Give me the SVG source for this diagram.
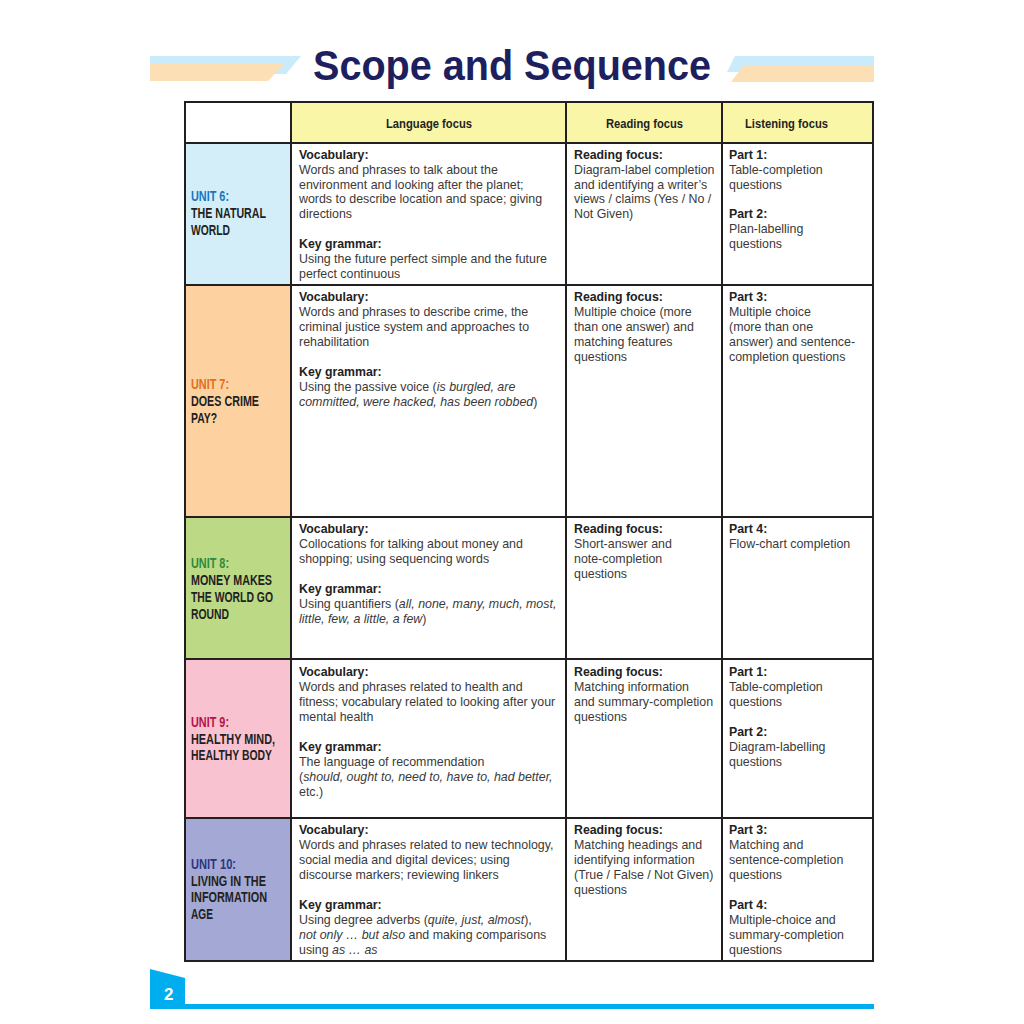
<svg xmlns="http://www.w3.org/2000/svg" width="1024" height="1024" viewBox="0 0 1024 1024">
<style>
.t{font-family:"Liberation Sans",Arial,sans-serif;font-size:12.4px;fill:#3a3a3a}
.b{font-family:"Liberation Sans",Arial,sans-serif;font-size:12.3px;font-weight:bold;fill:#222}
.u{font-family:"Liberation Sans Narrow","Liberation Sans",Arial,sans-serif;font-size:14px;font-weight:bold;fill:#231f20}
.h{font-family:"Liberation Sans Narrow","Liberation Sans",Arial,sans-serif;font-size:13.5px;font-weight:bold;fill:#231f20}
.i{font-style:italic}
.ln{stroke:#231f20;stroke-width:2;fill:none}
</style>
<rect width="1024" height="1024" fill="#fff"/>
<g id="header-decor">
<polygon points="150,56 301,56 286,74 150,74" fill="#c9ebfa"/>
<polygon points="150,64 284,64 268,81 150,81" fill="#fddfb6"/>
<polygon points="735,56 874,56 874,72 727,72" fill="#c9ebfa"/>
<polygon points="743,66 874,66 874,82 731,82" fill="#fddfb6"/>
<text x="313" y="80" textLength="398" lengthAdjust="spacingAndGlyphs" font-family="Liberation Sans,Arial,sans-serif" font-size="42" font-weight="bold" fill="#1e1f5e">Scope and Sequence</text>
</g>
<g id="cells">
<rect x="291" y="102" width="582" height="41" fill="#faf6a8"/>
<rect x="185" y="143" width="106" height="142" fill="#d3eef9"/>
<rect x="185" y="285" width="106" height="232" fill="#fdd2a0"/>
<rect x="185" y="517" width="106" height="142" fill="#bcd985"/>
<rect x="185" y="659" width="106" height="159" fill="#f8c2d0"/>
<rect x="185" y="818" width="106" height="143" fill="#a4a8d4"/>
</g>
<g id="grid">
<rect class="ln" x="185" y="102" width="688" height="859"/>
<line class="ln" x1="291" y1="102" x2="291" y2="961"/>
<line class="ln" x1="566" y1="102" x2="566" y2="961"/>
<line class="ln" x1="722" y1="102" x2="722" y2="961"/>
<line class="ln" x1="185" y1="143" x2="873" y2="143"/>
<line class="ln" x1="185" y1="285" x2="873" y2="285"/>
<line class="ln" x1="185" y1="517" x2="873" y2="517"/>
<line class="ln" x1="185" y1="659" x2="873" y2="659"/>
<line class="ln" x1="185" y1="818" x2="873" y2="818"/>
</g>
<g id="header-row">
<text class="h" x="386" y="128" textLength="86" lengthAdjust="spacingAndGlyphs">Language focus</text>
<text class="h" x="606" y="128" textLength="77" lengthAdjust="spacingAndGlyphs">Reading focus</text>
<text class="h" x="745" y="128" textLength="83" lengthAdjust="spacingAndGlyphs">Listening focus</text>
</g>
<g id="unit6">
<text class="u" x="191" y="201" textLength="38" lengthAdjust="spacingAndGlyphs" style="fill:#1a75bc">UNIT 6:</text>
<text class="u" x="191" y="218" textLength="75" lengthAdjust="spacingAndGlyphs">THE NATURAL</text>
<text class="u" x="191" y="235" textLength="39" lengthAdjust="spacingAndGlyphs">WORLD</text>
<text class="b" x="299" y="159">Vocabulary:</text>
<text class="t" x="299" y="174">Words and phrases to talk about the</text>
<text class="t" x="299" y="189">environment and looking after the planet;</text>
<text class="t" x="299" y="203">words to describe location and space; giving</text>
<text class="t" x="299" y="218">directions</text>
<text class="b" x="299" y="248">Key grammar:</text>
<text class="t" x="299" y="263">Using the future perfect simple and the future</text>
<text class="t" x="299" y="278">perfect continuous</text>
<text class="b" x="574" y="159">Reading focus:</text>
<text class="t" x="574" y="174">Diagram-label completion</text>
<text class="t" x="574" y="189">and identifying a writer’s</text>
<text class="t" x="574" y="203">views / claims (Yes / No /</text>
<text class="t" x="574" y="218">Not Given)</text>
<text class="b" x="729" y="159">Part 1:</text>
<text class="t" x="729" y="174">Table-completion</text>
<text class="t" x="729" y="189">questions</text>
<text class="b" x="729" y="218">Part 2:</text>
<text class="t" x="729" y="233">Plan-labelling</text>
<text class="t" x="729" y="248">questions</text>
</g>
<g id="unit7">
<text class="u" x="191" y="389" textLength="38" lengthAdjust="spacingAndGlyphs" style="fill:#e0701d">UNIT 7:</text>
<text class="u" x="191" y="406" textLength="68" lengthAdjust="spacingAndGlyphs">DOES CRIME</text>
<text class="u" x="191" y="423" textLength="26" lengthAdjust="spacingAndGlyphs">PAY?</text>
<text class="b" x="299" y="301">Vocabulary:</text>
<text class="t" x="299" y="316">Words and phrases to describe crime, the</text>
<text class="t" x="299" y="331">criminal justice system and approaches to</text>
<text class="t" x="299" y="346">rehabilitation</text>
<text class="b" x="299" y="376">Key grammar:</text>
<text class="t" x="299" y="391">Using the passive voice (<tspan class="i">is burgled, are</tspan></text>
<text class="t" x="299" y="406"><tspan class="i">committed, were hacked, has been robbed</tspan>)</text>
<text class="b" x="574" y="301">Reading focus:</text>
<text class="t" x="574" y="316">Multiple choice (more</text>
<text class="t" x="574" y="331">than one answer) and</text>
<text class="t" x="574" y="346">matching features</text>
<text class="t" x="574" y="361">questions</text>
<text class="b" x="729" y="301">Part 3:</text>
<text class="t" x="729" y="316">Multiple choice</text>
<text class="t" x="729" y="331">(more than one</text>
<text class="t" x="729" y="346">answer) and sentence-</text>
<text class="t" x="729" y="361">completion questions</text>
</g>
<g id="unit8">
<text class="u" x="191" y="568" textLength="38" lengthAdjust="spacingAndGlyphs" style="fill:#2e8b3a">UNIT 8:</text>
<text class="u" x="191" y="585" textLength="81" lengthAdjust="spacingAndGlyphs">MONEY MAKES</text>
<text class="u" x="191" y="602" textLength="82" lengthAdjust="spacingAndGlyphs">THE WORLD GO</text>
<text class="u" x="191" y="619" textLength="38" lengthAdjust="spacingAndGlyphs">ROUND</text>
<text class="b" x="299" y="533">Vocabulary:</text>
<text class="t" x="299" y="548">Collocations for talking about money and</text>
<text class="t" x="299" y="563">shopping; using sequencing words</text>
<text class="b" x="299" y="593">Key grammar:</text>
<text class="t" x="299" y="608">Using quantifiers (<tspan class="i">all, none, many, much, most,</tspan></text>
<text class="t" x="299" y="623"><tspan class="i">little, few, a little, a few</tspan>)</text>
<text class="b" x="574" y="533">Reading focus:</text>
<text class="t" x="574" y="548">Short-answer and</text>
<text class="t" x="574" y="563">note-completion</text>
<text class="t" x="574" y="578">questions</text>
<text class="b" x="729" y="533">Part 4:</text>
<text class="t" x="729" y="548">Flow-chart completion</text>
</g>
<g id="unit9">
<text class="u" x="191" y="727" textLength="38" lengthAdjust="spacingAndGlyphs" style="fill:#b5124a">UNIT 9:</text>
<text class="u" x="191" y="744" textLength="84" lengthAdjust="spacingAndGlyphs">HEALTHY MIND,</text>
<text class="u" x="191" y="760" textLength="81" lengthAdjust="spacingAndGlyphs">HEALTHY BODY</text>
<text class="b" x="299" y="676">Vocabulary:</text>
<text class="t" x="299" y="691">Words and phrases related to health and</text>
<text class="t" x="299" y="706">fitness; vocabulary related to looking after your</text>
<text class="t" x="299" y="721">mental health</text>
<text class="b" x="299" y="751">Key grammar:</text>
<text class="t" x="299" y="766">The language of recommendation</text>
<text class="t" x="299" y="781">(<tspan class="i">should, ought to, need to, have to, had better,</tspan></text>
<text class="t" x="299" y="796">etc.)</text>
<text class="b" x="574" y="676">Reading focus:</text>
<text class="t" x="574" y="691">Matching information</text>
<text class="t" x="574" y="706">and summary-completion</text>
<text class="t" x="574" y="721">questions</text>
<text class="b" x="729" y="676">Part 1:</text>
<text class="t" x="729" y="691">Table-completion</text>
<text class="t" x="729" y="706">questions</text>
<text class="b" x="729" y="736">Part 2:</text>
<text class="t" x="729" y="751">Diagram-labelling</text>
<text class="t" x="729" y="766">questions</text>
</g>
<g id="unit10">
<text class="u" x="191" y="869" textLength="45" lengthAdjust="spacingAndGlyphs" style="fill:#2e3580">UNIT 10:</text>
<text class="u" x="191" y="886" textLength="75" lengthAdjust="spacingAndGlyphs">LIVING IN THE</text>
<text class="u" x="191" y="902" textLength="76" lengthAdjust="spacingAndGlyphs">INFORMATION</text>
<text class="u" x="191" y="919" textLength="22" lengthAdjust="spacingAndGlyphs">AGE</text>
<text class="b" x="299" y="834">Vocabulary:</text>
<text class="t" x="299" y="849">Words and phrases related to new technology,</text>
<text class="t" x="299" y="864">social media and digital devices; using</text>
<text class="t" x="299" y="879">discourse markers; reviewing linkers</text>
<text class="b" x="299" y="909">Key grammar:</text>
<text class="t" x="299" y="924">Using degree adverbs (<tspan class="i">quite, just, almost</tspan>),</text>
<text class="t" x="299" y="939"><tspan class="i">not only … but also</tspan> and making comparisons</text>
<text class="t" x="299" y="954">using <tspan class="i">as … as</tspan></text>
<text class="b" x="574" y="834">Reading focus:</text>
<text class="t" x="574" y="849">Matching headings and</text>
<text class="t" x="574" y="864">identifying information</text>
<text class="t" x="574" y="879">(True / False / Not Given)</text>
<text class="t" x="574" y="894">questions</text>
<text class="b" x="729" y="834">Part 3:</text>
<text class="t" x="729" y="849">Matching and</text>
<text class="t" x="729" y="864">sentence-completion</text>
<text class="t" x="729" y="879">questions</text>
<text class="b" x="729" y="909">Part 4:</text>
<text class="t" x="729" y="924">Multiple-choice and</text>
<text class="t" x="729" y="939">summary-completion</text>
<text class="t" x="729" y="954">questions</text>
</g>
<g id="footer">
<polygon points="150,969 185,978 185,1009 150,1009" fill="#00aeef"/>
<rect x="150" y="1004" width="724" height="5" fill="#00aeef"/>
<text x="164" y="1000" font-family="Liberation Sans Narrow,Liberation Sans,Arial,sans-serif" font-size="17" font-weight="bold" fill="#fff">2</text>
</g>
</svg>
